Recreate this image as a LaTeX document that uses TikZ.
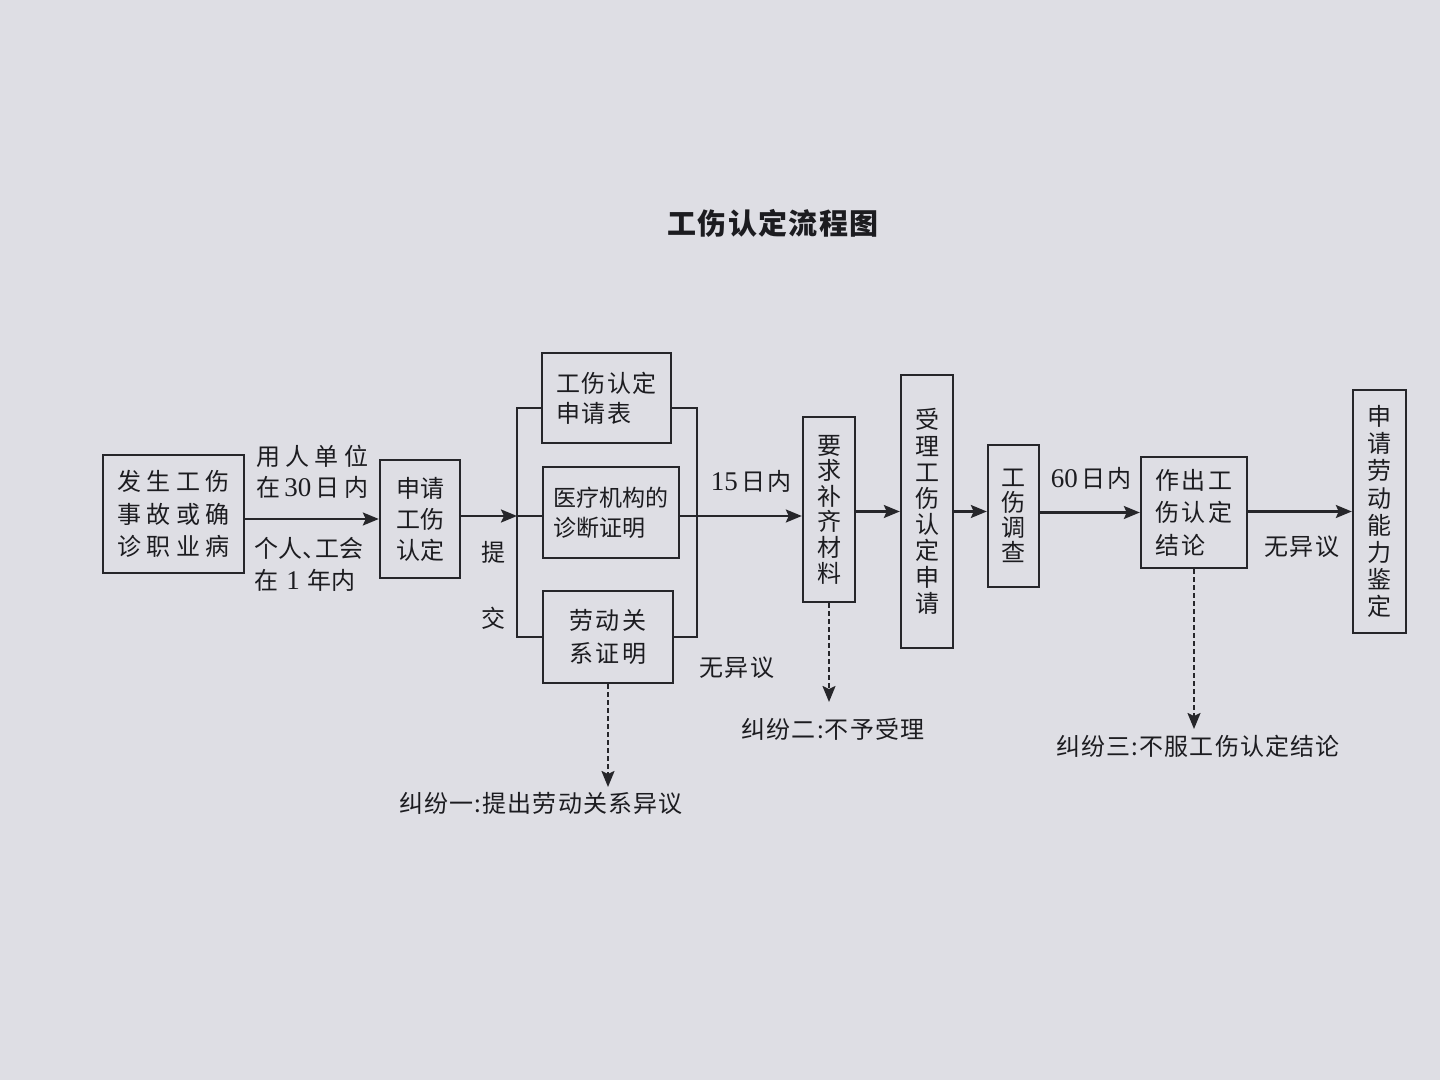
\documentclass[tikz,border=0pt]{standalone}
\usepackage{fontspec}
\usetikzlibrary{arrows.meta}
\newfontfamily\cjk{Noto Sans CJK SC}
\newfontfamily\cjkA{Noto Sans CJK SC}[LetterSpace=22]
\newfontfamily\cjkB{Noto Sans CJK SC}[LetterSpace=12]
\newfontfamily\cjkC{Noto Sans CJK SC}[LetterSpace=5]
\newfontfamily\lat{Liberation Serif}
\newcommand\dignum[1]{{\lat\fontsize{13.5}{16}\selectfont #1}}
\definecolor{bg}{RGB}{222,222,228}
\definecolor{ink}{RGB}{38,38,42}
\definecolor{txt}{RGB}{28,28,32}
\begin{document}
\begin{tikzpicture}[x=0.5pt,y=-0.5pt,
  box/.style={draw=ink, line width=1.2pt, inner sep=0pt, align=center, text=txt},
  hbox/.style={box, font=\cjk\fontsize{12}{15.5}\selectfont},
  vbox/.style={box, font=\cjk\fontsize{12}{13.2}\selectfont},
  lbl/.style={inner sep=0pt, text=txt, font=\cjkC\fontsize{12}{15.5}\selectfont},
  conn/.style={draw=ink, line width=1.2pt},
  arr/.style={conn, -{Stealth[length=8pt,width=6.5pt,inset=1.5pt]}},
  darr/.style={draw=ink, line width=1pt, dash pattern=on 2.5pt off 1.5pt, -{Stealth[length=8pt,width=6.5pt,inset=1.5pt]}}]
\fill[bg] (0,0) rectangle (1440,1080);
\useasboundingbox (0,0) rectangle (1440,1080);

% title
\node[inner sep=0pt, text=txt, font=\cjkC\bfseries\fontsize{14.5}{17}\selectfont] (title) at (773,223) {工伤认定流程图};

% boxes
\node[box, minimum width=70.5pt, minimum height=59pt, font=\cjkA\fontsize{12}{16.25}\selectfont] (b1) at (173.5,514) {发生工伤\\事故或确\\诊职业病};
\node[hbox, minimum width=40pt, minimum height=59pt, font=\cjk\fontsize{12}{15.5}\selectfont] (b2) at (420,519) {申请\\工伤\\认定};
\node[box, minimum width=64.5pt, minimum height=45pt, align=left, font=\cjkC\fontsize{12}{15}\selectfont] (b3) at (606.5,398) {工伤认定\\申请表};
\node[box, minimum width=68pt, minimum height=45.5pt, align=left, font=\cjk\fontsize{11.5}{15}\selectfont] (b4) at (611,512.5) {医疗机构的\\诊断证明};
\node[box, minimum width=65pt, minimum height=46pt, font=\cjkB\fontsize{12}{16.5}\selectfont] (b5) at (608,637) {劳动关\\系证明};
\node[vbox, minimum width=26pt, minimum height=92.5pt, font=\cjk\fontsize{12}{12.8}\selectfont] (b6) at (829,509.5) {要\\求\\补\\齐\\材\\料};
\node[vbox, minimum width=26pt, minimum height=136.5pt, font=\cjk\fontsize{12}{13.1}\selectfont] (b7) at (927,511.5) {受\\理\\工\\伤\\认\\定\\申\\请};
\node[vbox, minimum width=25.5pt, minimum height=71pt, font=\cjk\fontsize{12}{12.6}\selectfont] (b8) at (1013.5,516) {工\\伤\\调\\查};
\node[box, minimum width=53pt, minimum height=55.5pt, align=left, font=\cjkB\fontsize{12}{16.25}\selectfont] (b9) at (1194,512.5) {作出工\\伤认定\\结论};
\node[vbox, minimum width=26.5pt, minimum height=121.5pt, font=\cjk\fontsize{12}{13.55}\selectfont] (b10) at (1379.5,511.5) {申\\请\\劳\\动\\能\\力\\鉴\\定};

% bracket coordinates
\coordinate (sl) at (517,516);
\coordinate (sr) at (697,516);
\coordinate (tl) at (517,408);
\coordinate (tr) at (697,408);
\coordinate (ll) at (517,637);
\coordinate (lr) at (697,637);

% connectors
\draw[arr] (b1.east |- b2.west) -- (b2.west);
\draw[arr] (b2.east |- sl) -- (sl);
\draw[conn] (sl) -- (sl -| b4.west);
\draw[arr] (b4.east |- sl) -- (b6.west |- sl);
\draw[conn] (b3.west |- tl) -- (tl) -- (ll) -- (b5.west |- ll);
\draw[conn] (b3.east |- tr) -- (tr) -- (lr) -- (b5.east |- lr);
\draw[arr] (b6.east |- b7.west) -- (b7.west);
\draw[arr] (b7.east) -- (b7.east -| b8.west);
\draw[arr] (b8.east |- b9.west) -- (b9.west);
\draw[arr] (b9.east |- b10.west) -- (b10.west);

% labels on connectors
\node[lbl, anchor=west, align=left, font=\cjkA\fontsize{12}{15.5}\selectfont] (l1) at (256,471.5) {用人单位\\在\,\dignum{30}\,日内};
\node[lbl, anchor=west, align=left, font=\cjk\fontsize{12}{16}\selectfont] (l2) at (254,564) {个人、\kern-0.45em工会\\在\,\,\dignum{1}\,\,年内};
\node[lbl] (ti) at (493,552) {提};
\node[lbl] (jiao) at (493,618) {交};
\node[lbl] (l15) at (751,481) {\dignum{15}\,日内};
\node[lbl] (wy1) at (737,668) {无异议};
\node[lbl] (l60) at (1091,478) {\dignum{60}\,日内};
\node[lbl] (wy2) at (1302,547) {无异议};

% dispute labels
\node[lbl] (j1) at (541,803) {纠纷一:提出劳动关系异议};
\node[lbl] (j2) at (833,729) {纠纷二:不予受理};
\node[lbl] (j3) at (1198,746) {纠纷三:不服工伤认定结论};

\coordinate (e1) at (608,787);
\coordinate (e2) at (829,702);
\coordinate (e3) at (1196,729);
\draw[darr] (b5.south) -- (b5.south |- e1);
\draw[darr] (b6.south) -- (b6.south |- e2);
\draw[darr] (b9.south) -- (b9.south |- e3);
\end{tikzpicture}
\end{document}
